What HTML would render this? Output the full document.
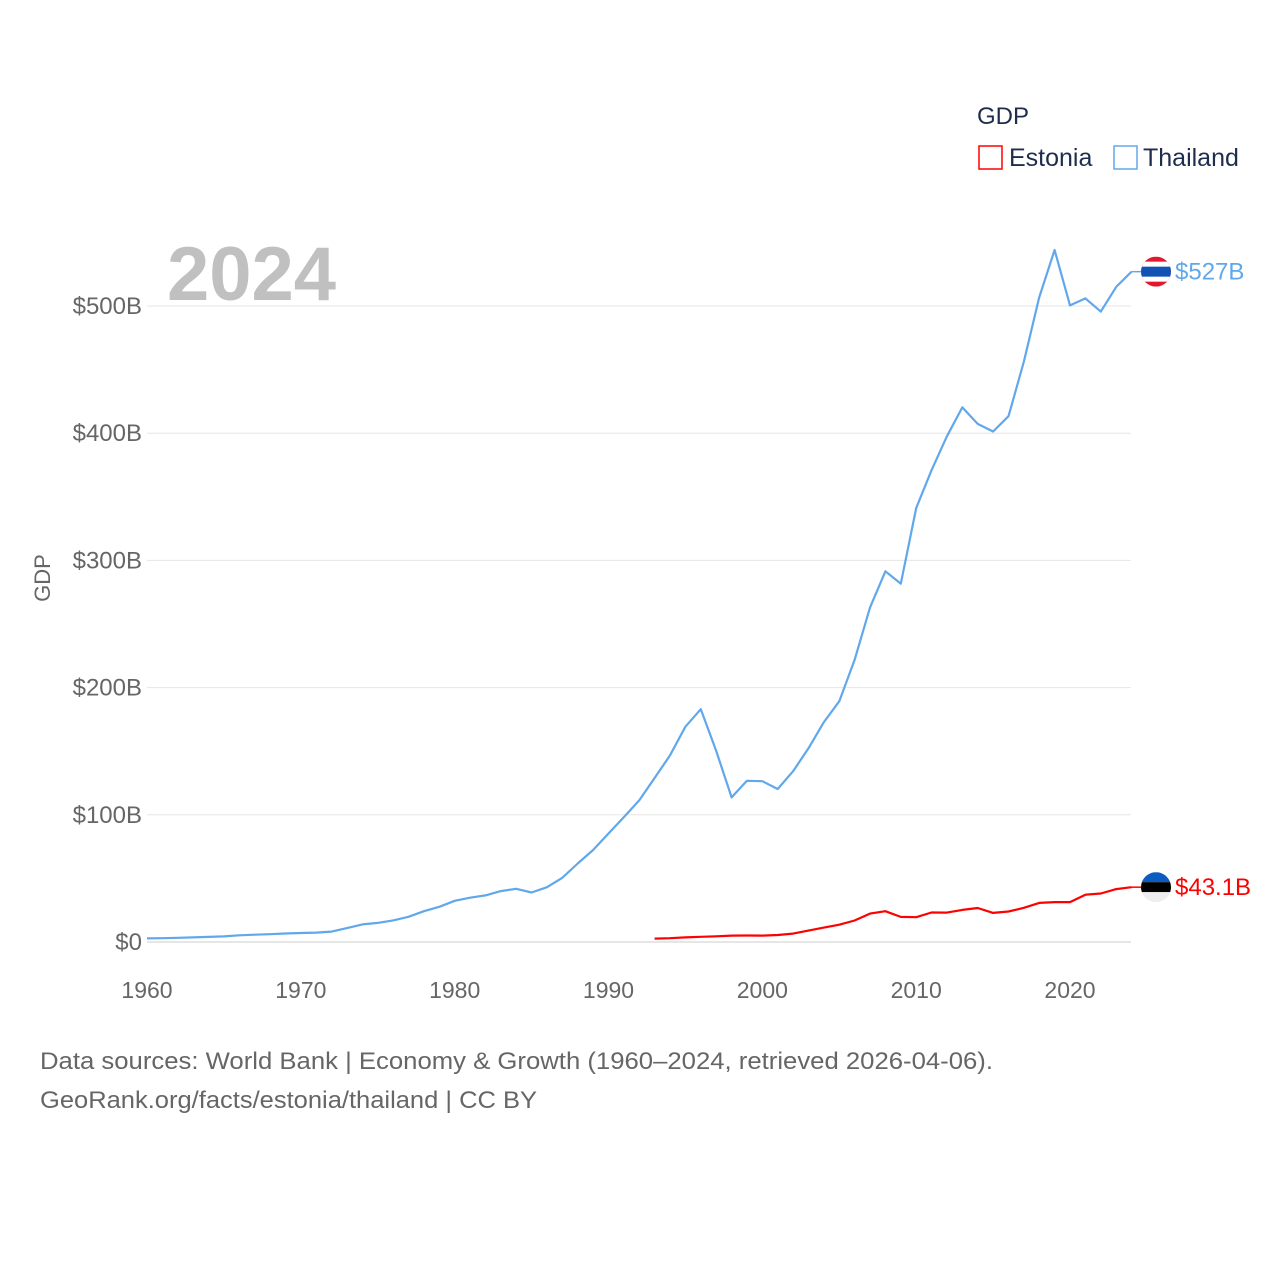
<!DOCTYPE html>
<html><head><meta charset="utf-8"><style>
body{margin:0;background:#fff;font-family:"Liberation Sans",sans-serif}
</style></head><body>
<svg id="c" width="1280" height="1280" style="display:block">
<rect width="1280" height="1280" fill="#fff"/>
<g id="grid"></g>
<g id="xt"></g>
<text x="167" y="300" font-size="76" font-weight="bold" fill="#c0c0c0">2024</text>
<text transform="translate(50,578) rotate(-90)" text-anchor="middle" font-size="22" fill="#666">GDP</text>
<text x="977" y="124" font-size="24" fill="#1f2d4d">GDP</text>
<g><rect x="979" y="146" width="23" height="23" fill="none" stroke="#f00" stroke-width="1.5"/><text x="1009" y="166" font-size="25" fill="#1f2d4d">Estonia</text></g>
<g><rect x="1114" y="146" width="23" height="23" fill="none" stroke="#60a8eb" stroke-width="1.5"/><text x="1143" y="166" font-size="25" fill="#1f2d4d">Thailand</text></g>
<g id="series"></g>
<text x="40" y="1069" font-size="24" fill="#666" textLength="953" lengthAdjust="spacingAndGlyphs">Data sources: World Bank | Economy &amp; Growth (1960–2024, retrieved 2026-04-06).</text>
<text x="40" y="1108" font-size="24" fill="#666" textLength="497" lengthAdjust="spacingAndGlyphs">GeoRank.org/facts/estonia/thailand | CC BY</text>
</svg>
<script>
const yTicks=[0,100,200,300,400,500];
const yTickLabels=["$0","$100B","$200B","$300B","$400B","$500B"];
const xTicks=[1960,1970,1980,1990,2000,2010,2020];
const thYears0=1960;
const thailand=[2.8,3.0,3.3,3.6,4.0,4.4,5.3,5.7,6.1,6.7,7.1,7.4,8.2,10.9,13.8,15.0,17.0,19.8,24.2,27.7,32.4,34.8,36.6,40.0,41.8,38.9,43.1,50.5,61.7,72.3,85.3,98.2,111.5,128.9,146.7,169.3,183.0,150.2,113.7,126.7,126.4,120.3,134.3,152.3,172.9,189.3,221.8,262.9,291.4,281.7,341.1,370.8,397.6,420.3,407.3,401.3,413.4,456.4,506.8,544.0,500.5,506.0,495.6,515.0,527.0];
const esYears0=1993;
const estonia=[2.7,3.0,3.6,4.1,4.5,5.0,5.1,5.0,5.5,6.6,9.0,11.3,13.6,16.9,22.3,24.2,19.7,19.5,23.2,23.1,25.2,26.7,22.9,24.0,26.9,30.7,31.4,31.4,37.2,38.1,41.6,43.1];
const labels=["$527B","$43.1B"];
const NS="http://www.w3.org/2000/svg";
const X=y=>147+(y-1960)*(923/60);
const Y=v=>942-v*1.272;
function mk(t,a,p){const e=document.createElementNS(NS,t);for(const k in a)e.setAttribute(k,a[k]);p.appendChild(e);return e;}
const grid=document.getElementById('grid');
yTicks.forEach((v,i)=>{
 const l=mk('line',{x1:147,x2:1131,y1:Y(v),y2:Y(v),stroke:i==0?'#ccc':'#e6e6e6','stroke-width':1},grid);
 
 
 const t=mk('text',{x:142,y:Y(v)+8,'text-anchor':'end','font-size':24,fill:'#666'},grid);
 t.textContent=yTickLabels[i];
 
 
});
const xt=document.getElementById('xt');
xTicks.forEach(y=>{
 const t=mk('text',{x:X(y),y:998,'text-anchor':'middle','font-size':23,fill:'#666'},xt);
 t.textContent=y;
 
 
});
const g=document.getElementById('series');
function line(data,y0,col,name,lab){
 const d=data.map((v,i)=>(i?'L':'M')+X(y0+i).toFixed(1)+','+Y(v).toFixed(1)).join('');
 const p=mk('path',{d:d,fill:'none',stroke:col,'stroke-width':2.2,'stroke-linejoin':'round'},g);
 
 
 const last=data[data.length-1],ly=Y(last);
 mk('line',{x1:X(2024),x2:1141,y1:ly,y2:ly,stroke:col,'stroke-width':1.5},g);
 const t=mk('text',{x:1175,y:ly+8,'font-size':24,fill:col},g);
 t.textContent=lab;
 
 
 return ly;
}
const ty=line(thailand,thYears0,'#60a8eb','thailand',labels[0]);
const ey=line(estonia,esYears0,'#f00','estonia',labels[1]);
const ft=mk('g',{},g);


mk('clipPath',{id:'ct'},ft);
mk('circle',{cx:1156,cy:ty,r:15},document.getElementById('ct'));
const tg=mk('g',{'clip-path':'url(#ct)'},ft);
mk('rect',{x:1140,y:ty-15,width:32,height:30,fill:'#e3182d'},tg);
mk('rect',{x:1140,y:ty-10,width:32,height:20,fill:'#fff'},tg);
mk('rect',{x:1140,y:ty-5,width:32,height:10,fill:'#1252b4'},tg);
const fe=mk('g',{},g);


mk('clipPath',{id:'ce'},fe);
mk('circle',{cx:1156,cy:ey,r:15},document.getElementById('ce'));
const eg=mk('g',{'clip-path':'url(#ce)'},fe);
mk('rect',{x:1140,y:ey-15,width:32,height:10,fill:'#0b5cc0'},eg);
mk('rect',{x:1140,y:ey-5,width:32,height:10,fill:'#000'},eg);
mk('rect',{x:1140,y:ey+5,width:32,height:10,fill:'#eee'},eg);
</script>
</body></html>
